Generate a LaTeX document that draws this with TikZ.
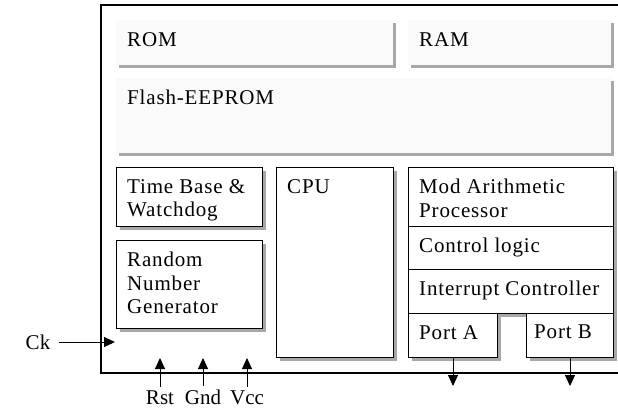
\documentclass[tikz,border=0pt]{standalone}
\usepackage{fontspec}
\setmainfont{Liberation Serif}[LetterSpace=4]
\usetikzlibrary{positioning,shadows,arrows.meta}

\definecolor{memfill}{HTML}{FAFAFA}
\definecolor{shade}{HTML}{A8A8A8}

\tikzset{
  boxshadow/.style={drop shadow={shadow xshift=3pt,shadow yshift=-3pt,fill=shade,opacity=1}},
  mem/.style={fill=memfill,inner sep=0pt,anchor=north west,boxshadow},
  blk/.style={draw=black,fill=white,line width=1pt,inner sep=0pt,anchor=north west,boxshadow},
  txt/.style={anchor=north west,inner xsep=11pt,inner ysep=12pt,align=left,
              font=\fontsize{21}{23.5}\selectfont},
  pinlabel/.style={font=\fontsize{21}{23.5}\selectfont\addfontfeatures{LetterSpace=0},inner ysep=3pt},
  sig/.style={-{Triangle[length=11pt,width=10pt]},line width=1pt}
}

\begin{document}
\begin{tikzpicture}[x=1pt,y=-1pt]
	\useasboundingbox (0,0) rectangle (618,408);

	% chip outline (right side runs off the picture)
	\draw[line width=1.1pt] (618,5) -| (101,373) -- (618,373);

	% memories
	\node[mem,minimum width=277pt,minimum height=45pt] (rom) at (116,20) {};
	\node[mem,minimum width=203pt,minimum height=45pt] (ram) at (408,20) {};
	\node[mem,minimum width=495pt,minimum height=75pt] (flash) at (116,78) {};
	\node[txt] (romtxt) at (rom.north west) {ROM};
	\node[txt] (ramtxt) at (ram.north west) {RAM};
	\node[txt] (flashtxt) at (flash.north west) {Flash-EEPROM};

	% left column
	\node[blk,minimum width=146pt,minimum height=59pt] (timer) at (116,167) {};
	\node[blk,minimum width=146pt,minimum height=88pt] (rng) at (116,240) {};
	\node[txt] (timertxt) at (timer.north west) {Time Base \&\\Watchdog};
	\node[txt] (rngtxt) at (rng.north west) {Random\\Number\\Generator};

	% cpu
	\node[blk,minimum width=117pt,minimum height=190pt] (cpu) at (276,167) {};
	\node[txt] (cputxt) at (cpu.north west) {CPU};

	% right column
	\node[blk,minimum width=205pt,minimum height=59pt] (modp) at (408,167) {};
	\node[blk,minimum width=205pt,minimum height=43pt] (ctrl) at (408,226) {};
	\node[blk,minimum width=205pt,minimum height=44pt] (intc) at (408,269) {};
	\node[blk,minimum width=89pt,minimum height=44pt] (porta) at (408,313) {};
	\node[blk,minimum width=87pt,minimum height=44pt] (portb) at (526,313) {};
	\node[txt] (modptxt) at (modp.north west) {Mod Arithmetic\\Processor};
	\node[txt] (ctrltxt) at (ctrl.north west) {Control logic};
	\node[txt] (intctxt) at (intc.north west) {Interrupt Controller};
	\node[txt] (portatxt) at (porta.north west) {Port A};
	\node[txt,inner xsep=8pt] (portbtxt) at (portb.north west) {Port B};

	% pins
	\coordinate (pinline) at (0,358);
	\coordinate (ckin) at (115,342);
	\node[pinlabel,anchor=base] (ck) at (38,349) {Ck};
	\node[pinlabel,anchor=base] (rst) at (160,404) {Rst};
	\node[pinlabel,anchor=base] (gnd) at (203,404) {Gnd};
	\node[pinlabel,anchor=base] (vcc) at (247,404) {Vcc};

	\draw[sig] ([xshift=5pt]ck.east |- ckin) -- (ckin);
	\draw[sig] (rst.north) -- (rst.north |- pinline);
	\draw[sig] (gnd.north) -- (gnd.north |- pinline);
	\draw[sig] (vcc.north) -- (vcc.north |- pinline);
	\draw[sig] (porta.south) -- ++(0,28);
	\draw[sig] (portb.south) -- ++(0,28);
\end{tikzpicture}
\end{document}
